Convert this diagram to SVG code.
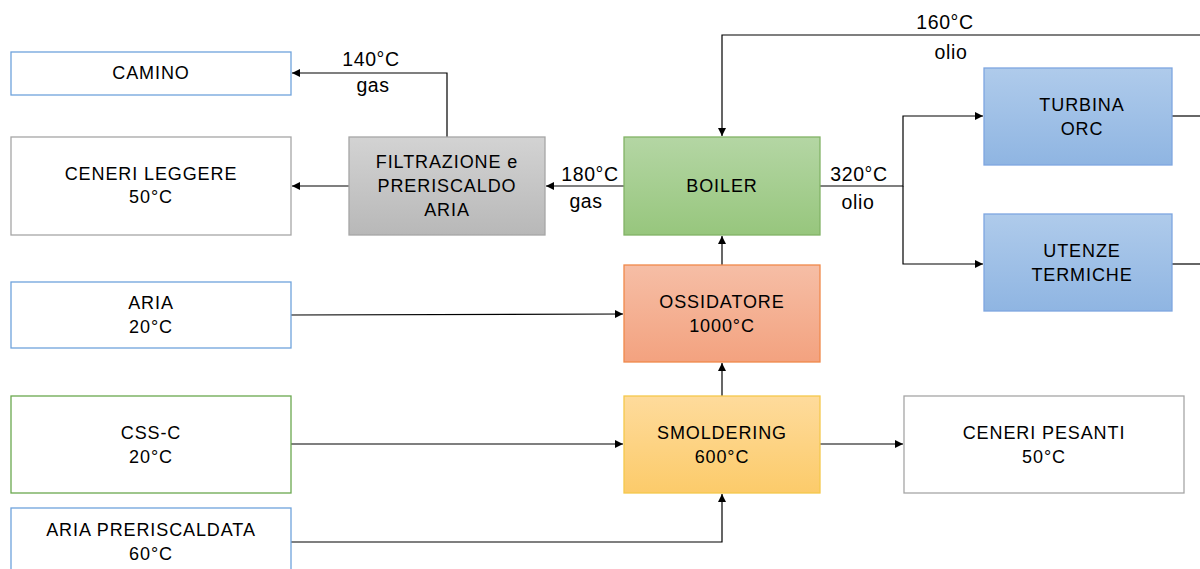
<svg xmlns="http://www.w3.org/2000/svg" width="1200" height="569" viewBox="0 0 1200 569">
<style>
text{font-family:"Liberation Sans",Arial,sans-serif;font-size:18px;letter-spacing:0.9px;fill:#000;text-anchor:middle}
.lb{font-size:19.5px;letter-spacing:0.6px}
.w{fill:#fff;stroke-width:1.3}
.bl{stroke:#6fa3dc}
.gr{stroke:#a6a6a6}
.gn{stroke:#6aa84f}
.c{fill:none;stroke:#000;stroke-width:1.2}
</style>
<defs>
<linearGradient id="gGray" x1="0" y1="0" x2="0" y2="1"><stop offset="0" stop-color="#d3d3d3"/><stop offset="1" stop-color="#b8b8b8"/></linearGradient>
<linearGradient id="gGreen" x1="0" y1="0" x2="0" y2="1"><stop offset="0" stop-color="#b4d6a4"/><stop offset="1" stop-color="#97c67d"/></linearGradient>
<linearGradient id="gOrange" x1="0" y1="0" x2="0" y2="1"><stop offset="0" stop-color="#f6bea6"/><stop offset="1" stop-color="#f3a27f"/></linearGradient>
<linearGradient id="gYellow" x1="0" y1="0" x2="0" y2="1"><stop offset="0" stop-color="#fedb9c"/><stop offset="1" stop-color="#fccb6a"/></linearGradient>
<linearGradient id="gBlue" x1="0" y1="0" x2="0" y2="1"><stop offset="0" stop-color="#afcbeb"/><stop offset="1" stop-color="#8fb5e2"/></linearGradient>
<marker id="ar" viewBox="0 0 10 10" refX="10" refY="5" markerWidth="8" markerHeight="8" markerUnits="userSpaceOnUse" orient="auto"><path d="M0,0 L10,5 L0,10 Z" fill="#000"/></marker>
</defs>

<g id="connectors">
<path class="c" d="M1200,35 H722 V136" marker-end="url(#ar)"/>
<path class="c" d="M820,186 H903 V116 H983" marker-end="url(#ar)"/>
<path class="c" d="M903,186 V264 H983" marker-end="url(#ar)"/>
<path class="c" d="M1172,116 H1200"/>
<path class="c" d="M1172,264 H1200"/>
<path class="c" d="M624,186 H546" marker-end="url(#ar)"/>
<path class="c" d="M349,186 H292" marker-end="url(#ar)"/>
<path class="c" d="M447,137 V73 H292" marker-end="url(#ar)"/>
<path class="c" d="M291,315 L623,314" marker-end="url(#ar)"/>
<path class="c" d="M722,265 V236" marker-end="url(#ar)"/>
<path class="c" d="M722,396 V363" marker-end="url(#ar)"/>
<path class="c" d="M291,444 H623" marker-end="url(#ar)"/>
<path class="c" d="M291,542 H722 V494" marker-end="url(#ar)"/>
<path class="c" d="M820,444 H903" marker-end="url(#ar)"/>
<text class="lb" x="945" y="29">160°C</text>
<text class="lb" x="951" y="59">olio</text>
<text class="lb" x="859" y="181">320°C</text>
<text class="lb" x="858" y="209">olio</text>
<text class="lb" x="590" y="181">180°C</text>
<text class="lb" x="586" y="208">gas</text>
<text class="lb" x="371" y="66">140°C</text>
<text class="lb" x="373" y="92">gas</text>
</g>

<g id="camino"><rect class="w bl" x="11" y="52" width="280" height="43"/><text x="151" y="79">CAMINO</text></g>
<g id="ceneri-leggere"><rect class="w gr" x="11" y="137" width="280" height="98"/><text x="151" y="180">CENERI LEGGERE</text><text x="151" y="203">50°C</text></g>
<g id="filtrazione"><rect x="349" y="137" width="196" height="98" fill="url(#gGray)" stroke="#a6a6a6" stroke-width="1.3"/><text x="447" y="168">FILTRAZIONE e</text><text x="447" y="192">PRERISCALDO</text><text x="447" y="216">ARIA</text></g>
<g id="boiler"><rect x="624" y="137" width="196" height="98" fill="url(#gGreen)" stroke="#82b366" stroke-width="1.3"/><text x="722" y="192">BOILER</text></g>
<g id="ossidatore"><rect x="624" y="265" width="196" height="97" fill="url(#gOrange)" stroke="#f0894a" stroke-width="1.3"/><text x="722" y="308">OSSIDATORE</text><text x="722" y="332">1000°C</text></g>
<g id="smoldering"><rect x="624" y="396" width="196" height="97" fill="url(#gYellow)" stroke="#f5c84c" stroke-width="1.3"/><text x="722" y="439">SMOLDERING</text><text x="722" y="463">600°C</text></g>
<g id="turbina"><rect x="984" y="68" width="188" height="97" fill="url(#gBlue)" stroke="#7ea6e0" stroke-width="1.3"/><text x="1082" y="111">TURBINA</text><text x="1082" y="135">ORC</text></g>
<g id="utenze"><rect x="984" y="214" width="188" height="97" fill="url(#gBlue)" stroke="#7ea6e0" stroke-width="1.3"/><text x="1082" y="257">UTENZE</text><text x="1082" y="281">TERMICHE</text></g>
<g id="aria"><rect class="w bl" x="11" y="282" width="280" height="66"/><text x="151" y="309">ARIA</text><text x="151" y="333">20°C</text></g>
<g id="css-c"><rect class="w gn" x="11" y="396" width="280" height="97"/><text x="151" y="439">CSS-C</text><text x="151" y="463">20°C</text></g>
<g id="aria-preriscaldata"><rect class="w bl" x="11" y="508" width="280" height="70"/><text x="151" y="536">ARIA PRERISCALDATA</text><text x="151" y="560">60°C</text></g>
<g id="ceneri-pesanti"><rect class="w gr" x="904" y="396" width="280" height="97"/><text x="1044" y="439">CENERI PESANTI</text><text x="1044" y="463">50°C</text></g>
</svg>
